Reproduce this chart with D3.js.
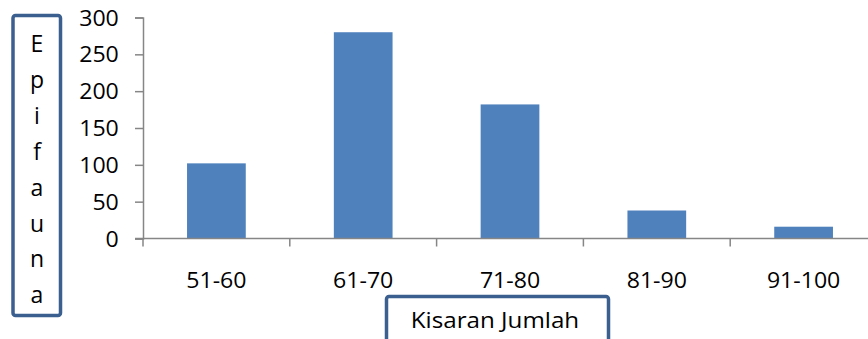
<!DOCTYPE html>
<html>
<head>
<meta charset="utf-8">
<script src="https://cdn.jsdelivr.net/npm/d3@7"></script>
<style>
  html, body { margin: 0; padding: 0; background: #fff; }
  svg { display: block; }
  text { font-family: "Open Sans", "Noto Sans", sans-serif; fill: #000; }
</style>
</head>
<body>
<svg id="chart" width="868" height="339"></svg>
<script>
// Epifauna count per range class
const categories = ["51-60", "61-70", "71-80", "81-90", "91-100"];
const values = [102, 280, 182, 38, 16];
const yTicks = [0, 50, 100, 150, 200, 250, 300];
const yTitle = "Epifauna";
const xTitle = "Kisaran Jumlah";

const svg = d3.select("#chart");
const plotLeft = 143, plotBottom = 238.5, plotTop = 17.5, step = 146.8;

const x = d3.scaleBand()
  .domain(categories)
  .range([plotLeft, plotLeft + step * categories.length])
  .paddingInner(0.6)
  .paddingOuter(0.3);

const y = d3.scaleLinear().domain([0, 300]).range([plotBottom, plotTop]);

const axisColor = "#868686";

// bars
svg.append("g").selectAll("rect")
  .data(values)
  .join("rect")
  .attr("x", (d, i) => x(categories[i]))
  .attr("y", d => y(d))
  .attr("width", x.bandwidth())
  .attr("height", d => y(0) - y(d))
  .attr("fill", "#4f81bd");

// y axis
const yAxis = svg.append("g")
  .attr("transform", `translate(${plotLeft},0)`)
  .call(d3.axisLeft(y).tickValues(yTicks).tickSize(8).tickPadding(14));
yAxis.select(".domain").attr("stroke", axisColor).attr("stroke-width", 1.5);
yAxis.selectAll(".tick line").attr("stroke", axisColor).attr("stroke-width", 1.5);
yAxis.selectAll(".tick text")
  .style("font-size", "21px")
  .attr("dy", "0.36em")
  .attr("transform", "scale(1.1,1)");

// x axis: ticks sit on the category boundaries
const bounds = d3.range(categories.length + 1).map(i => plotLeft + i * x.step());
const xAxisG = svg.append("g").attr("transform", `translate(0,${plotBottom})`);
xAxisG.append("line")
  .attr("x1", plotLeft - 8).attr("x2", bounds[bounds.length - 1])
  .attr("stroke", axisColor).attr("stroke-width", 1.5);
xAxisG.selectAll("line.tk")
  .data(bounds)
  .join("line")
  .attr("class", "tk")
  .attr("x1", d => d).attr("x2", d => d)
  .attr("y1", 0).attr("y2", 8)
  .attr("stroke", axisColor).attr("stroke-width", 1.5);
xAxisG.selectAll("text.cat")
  .data(categories)
  .join("text")
  .attr("class", "cat")
  .attr("text-anchor", "middle")
  .attr("transform", d => `translate(${x(d) + x.bandwidth() / 2},49) scale(1.1,1)`)
  .style("font-size", "21px")
  .text(d => d);

// y title box with stacked letters
const boxColor = "#3b5f8e";
svg.append("rect")
  .attr("x", 13).attr("y", 15.5).attr("width", 47.5).attr("height", 300)
  .attr("rx", 2.5)
  .attr("fill", "#fff").attr("stroke", boxColor).attr("stroke-width", 3.5);
svg.append("g").selectAll("text")
  .data(yTitle.split(""))
  .join("text")
  .attr("x", 37)
  .attr("y", (d, i) => 52 + i * 35.9)
  .attr("text-anchor", "middle")
  .style("font-size", "23px")
  .text(d => d);

// x title box
svg.append("rect")
  .attr("x", 386.5).attr("y", 296.5).attr("width", 222).attr("height", 60)
  .attr("rx", 2.5)
  .attr("fill", "#fff").attr("stroke", boxColor).attr("stroke-width", 3.5);
svg.append("text")
  .attr("text-anchor", "middle")
  .attr("transform", "translate(495,328) scale(1.1,1)")
  .style("font-size", "22px")
  .text(xTitle);
</script>
</body>
</html>
